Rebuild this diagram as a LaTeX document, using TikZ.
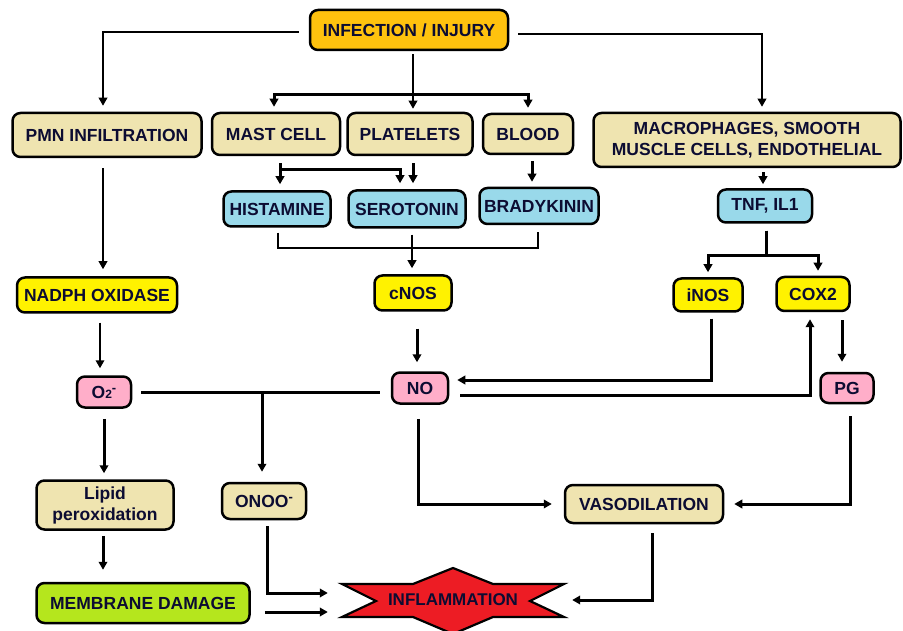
\documentclass[tikz,border=0pt]{standalone}
\usepackage{fontspec}
\setmainfont{Liberation Sans}
\usetikzlibrary{arrows.meta,calc}
\definecolor{cOrange}{RGB}{255,194,14}
\definecolor{cBeige}{RGB}{239,228,176}
\definecolor{cBlue}{RGB}{153,217,234}
\definecolor{cYellow}{RGB}{255,242,0}
\definecolor{cPink}{RGB}{255,174,201}
\definecolor{cLime}{RGB}{181,230,29}
\definecolor{cRed}{RGB}{237,28,36}
\definecolor{txt}{RGB}{12,12,50}
\begin{document}
\begin{tikzpicture}[x=1pt,y=-1pt,
  box/.style={draw=black, line width=2.5pt, rounded corners=8pt,
    font=\bfseries\fontsize{17.5}{21}\selectfont, text=txt, align=center, inner sep=0pt},
  thinline/.style={draw=black, line width=1.8pt},
  thickline/.style={draw=black, line width=3pt},
  arr/.style={-{Triangle[length=8pt,width=8.5pt]}}]
\useasboundingbox (0,0) rectangle (903,631);

% nodes
\node[box, fill=cOrange, minimum width=198pt, minimum height=40pt] (inf) at (409,30) {INFECTION / INJURY};
\node[box, fill=cBeige, minimum width=189pt, minimum height=44pt] (pmn) at (107,135) {PMN INFILTRATION};
\node[box, fill=cBeige, minimum width=128pt, minimum height=42pt] (mast) at (276,134) {MAST CELL};
\node[box, fill=cBeige, minimum width=125pt, minimum height=42pt] (plat) at (410,134) {PLATELETS};
\node[box, fill=cBeige, minimum width=90pt, minimum height=40pt] (blood) at (528,134) {BLOOD};
\node[box, fill=cBeige, minimum width=307pt, minimum height=54pt] (macro) at (747,140) {MACROPHAGES, SMOOTH\\MUSCLE CELLS, ENDOTHELIAL};
\node[box, fill=cBlue, minimum width=107pt, minimum height=35pt] (hist) at (277,209) {HISTAMINE};
\node[box, fill=cBlue, minimum width=117pt, minimum height=37pt] (sero) at (407,209) {SEROTONIN};
\node[box, fill=cBlue, minimum width=119pt, minimum height=36pt] (brady) at (539,206) {BRADYKININ};
\node[box, fill=cBlue, minimum width=94pt, minimum height=33pt] (tnf) at (765,206) {TNF, IL1};
\node[box, fill=cYellow, minimum width=160pt, minimum height=35pt] (nadph) at (97,295) {NADPH OXIDASE};
\node[box, fill=cYellow, minimum width=77pt, minimum height=35pt] (cnos) at (413,293) {cNOS};
\node[box, fill=cYellow, minimum width=69pt, minimum height=33pt] (inos) at (708,295) {iNOS};
\node[box, fill=cYellow, minimum width=73pt, minimum height=34pt] (cox2) at (813,294) {COX2};
\node[box, fill=cPink, minimum width=54pt, minimum height=31pt] (o2) at (104,392) {O{\fontsize{12}{12}\selectfont 2}\raisebox{6pt}{\fontsize{13}{13}\selectfont -}};
\node[box, fill=cPink, minimum width=56pt, minimum height=31pt] (no) at (420,388) {NO};
\node[box, fill=cPink, minimum width=53pt, minimum height=30pt] (pg) at (847,388) {PG};
\node[box, fill=cBeige, minimum width=137pt, minimum height=49pt] (lipid) at (105,505) {Lipid\\peroxidation};
\node[box, fill=cBeige, minimum width=84pt, minimum height=36pt] (onoo) at (264,501) {ONOO\raisebox{6pt}{\fontsize{13}{13}\selectfont -}};
\node[box, fill=cBeige, minimum width=158pt, minimum height=38pt] (vaso) at (644,504) {VASODILATION};
\node[box, fill=cLime, minimum width=213pt, minimum height=40pt] (membrane) at (143,603) {MEMBRANE DAMAGE};

% inflammation star
\draw[fill=cRed, line width=2.2pt, line join=miter]
  (342,584) -- (413,584) -- (453,568) -- (493,584) -- (564,584) -- (530,601)
  -- (564,617) -- (493,617) -- (453,634) -- (413,617) -- (342,617) -- (376,601) -- cycle;
\node[font=\bfseries\fontsize{17}{20}\selectfont, text=txt, minimum width=222pt, minimum height=33pt, inner sep=0pt] (infl) at (453,600) {INFLAMMATION};

% connectors from INFECTION / INJURY
\draw[thinline, arr, shorten <=10pt, shorten >=6pt] ([yshift=-2pt]inf.west) -| ([xshift=-4pt]pmn.north);
\draw[thinline, arr, shorten <=3pt, shorten >=3pt] ([xshift=4pt]inf.south) -- ([xshift=4pt]inf.south |- plat.north);
\coordinate (bar) at (413,95);
\draw[thickline, arr, shorten >=5pt] (bar) -| ([xshift=-2pt]mast.north);
\draw[thickline, arr, shorten >=5pt] (bar) -| (blood.north);
\draw[thinline, arr, shorten <=9pt, shorten >=5pt] ([yshift=-4pt]inf.east) -| ([xshift=15pt]macro.north);

% second level
\draw[thickline, arr, shorten <=7pt, shorten >=6pt] ([xshift=4pt]mast.south) -- ([xshift=4pt]mast.south |- hist.north);
\draw[thickline, arr, shorten >=6pt] ([xshift=4pt,yshift=-13pt]mast.south) -| ([xshift=-7pt]sero.north);
\draw[thickline, arr, shorten <=7pt, shorten >=6pt] ([xshift=3pt]plat.south) -- ([xshift=3pt]plat.south |- sero.north);
\draw[thickline, arr, shorten <=6pt, shorten >=5pt] ([xshift=4pt]blood.south) -- ([xshift=4pt]blood.south |- brady.north);
\draw[thickline, arr, shorten <=4pt, shorten >=4pt] ([xshift=16pt]macro.south) -- ([xshift=16pt]macro.south |- tnf.north);

% mediators to cNOS
\draw[thinline, shorten <=5pt, shorten >=7pt] ([xshift=1pt]hist.south) -- ++(0,20) -| ([xshift=-1pt]brady.south);
\draw[thinline, arr, line width=2pt, shorten <=6pt, shorten >=6pt] ([xshift=5pt]sero.south) -- ([xshift=5pt]sero.south |- cnos.north);

% TNF to iNOS / COX2
\draw[thickline, arr, shorten >=5pt] ([xshift=1pt]tnf.south) ++(0,7) -- ++(0,25) -| (inos.north);
\draw[thickline, arr, shorten >=5pt] ([xshift=1pt]tnf.south) ++(0,7) -- ++(0,25) -| ([xshift=5pt]cox2.north);

% left column
\draw[thinline, arr, shorten <=10pt, shorten >=7pt] ([xshift=-4pt]pmn.south) -- ([xshift=-4pt]pmn.south |- nadph.north);
\draw[thinline, arr, shorten <=9pt, shorten >=7pt] ([xshift=3pt]nadph.south) -- ([xshift=3pt]nadph.south |- o2.north);
\draw[thickline, arr, shorten <=10pt, shorten >=6pt] (o2.south) -- (o2.south |- lipid.north);
\draw[thickline, arr, shorten <=5pt, shorten >=12pt] ([xshift=-2pt]lipid.south) -- ([xshift=-2pt]lipid.south |- membrane.north);

% NO region
\draw[thickline, arr, shorten <=17pt, shorten >=9pt] ([xshift=4pt]cnos.south) -- ([xshift=4pt]cnos.south |- no.north);
\draw[thickline, arr, shorten <=6pt, shorten >=8pt] ([xshift=3pt]inos.south) |- ([yshift=8pt]no.east);
\draw[thickline, arr, shorten <=11pt, shorten >=7pt] ([yshift=-7pt]no.east) -| ([xshift=-3pt]cox2.south);
\draw[thickline, arr, shorten <=8pt, shorten >=10pt] ([xshift=29pt]cox2.south) -- ([xshift=29pt]cox2.south |- pg.north);
\draw[thickline, shorten <=9pt, shorten >=11pt] (o2.east) -- (o2.east -| no.west);
\draw[thickline, arr, shorten >=10pt] ([xshift=-2pt]o2.east -| onoo.north) -- ([xshift=-2pt]onoo.north);

% to VASODILATION and INFLAMMATION
\draw[thickline, arr, shorten <=14pt, shorten >=12pt] ([xshift=-2pt]no.south) |- (vaso.west);
\draw[thickline, arr, shorten <=12pt, shorten >=10pt] ([xshift=3pt]pg.south) |- (vaso.east);
\draw[thickline, arr, shorten <=9pt, shorten >=8pt] ([xshift=8pt]vaso.south) |- (infl.east);
\draw[thickline, arr, shorten <=6pt, shorten >=14pt] ([xshift=3pt]onoo.south) |- ([yshift=7pt]infl.west);
\draw[thickline, arr, shorten <=14pt, shorten >=14pt] ([yshift=-9pt]membrane.east) -- ([yshift=-9pt]membrane.east -| infl.west);
\end{tikzpicture}
\end{document}
